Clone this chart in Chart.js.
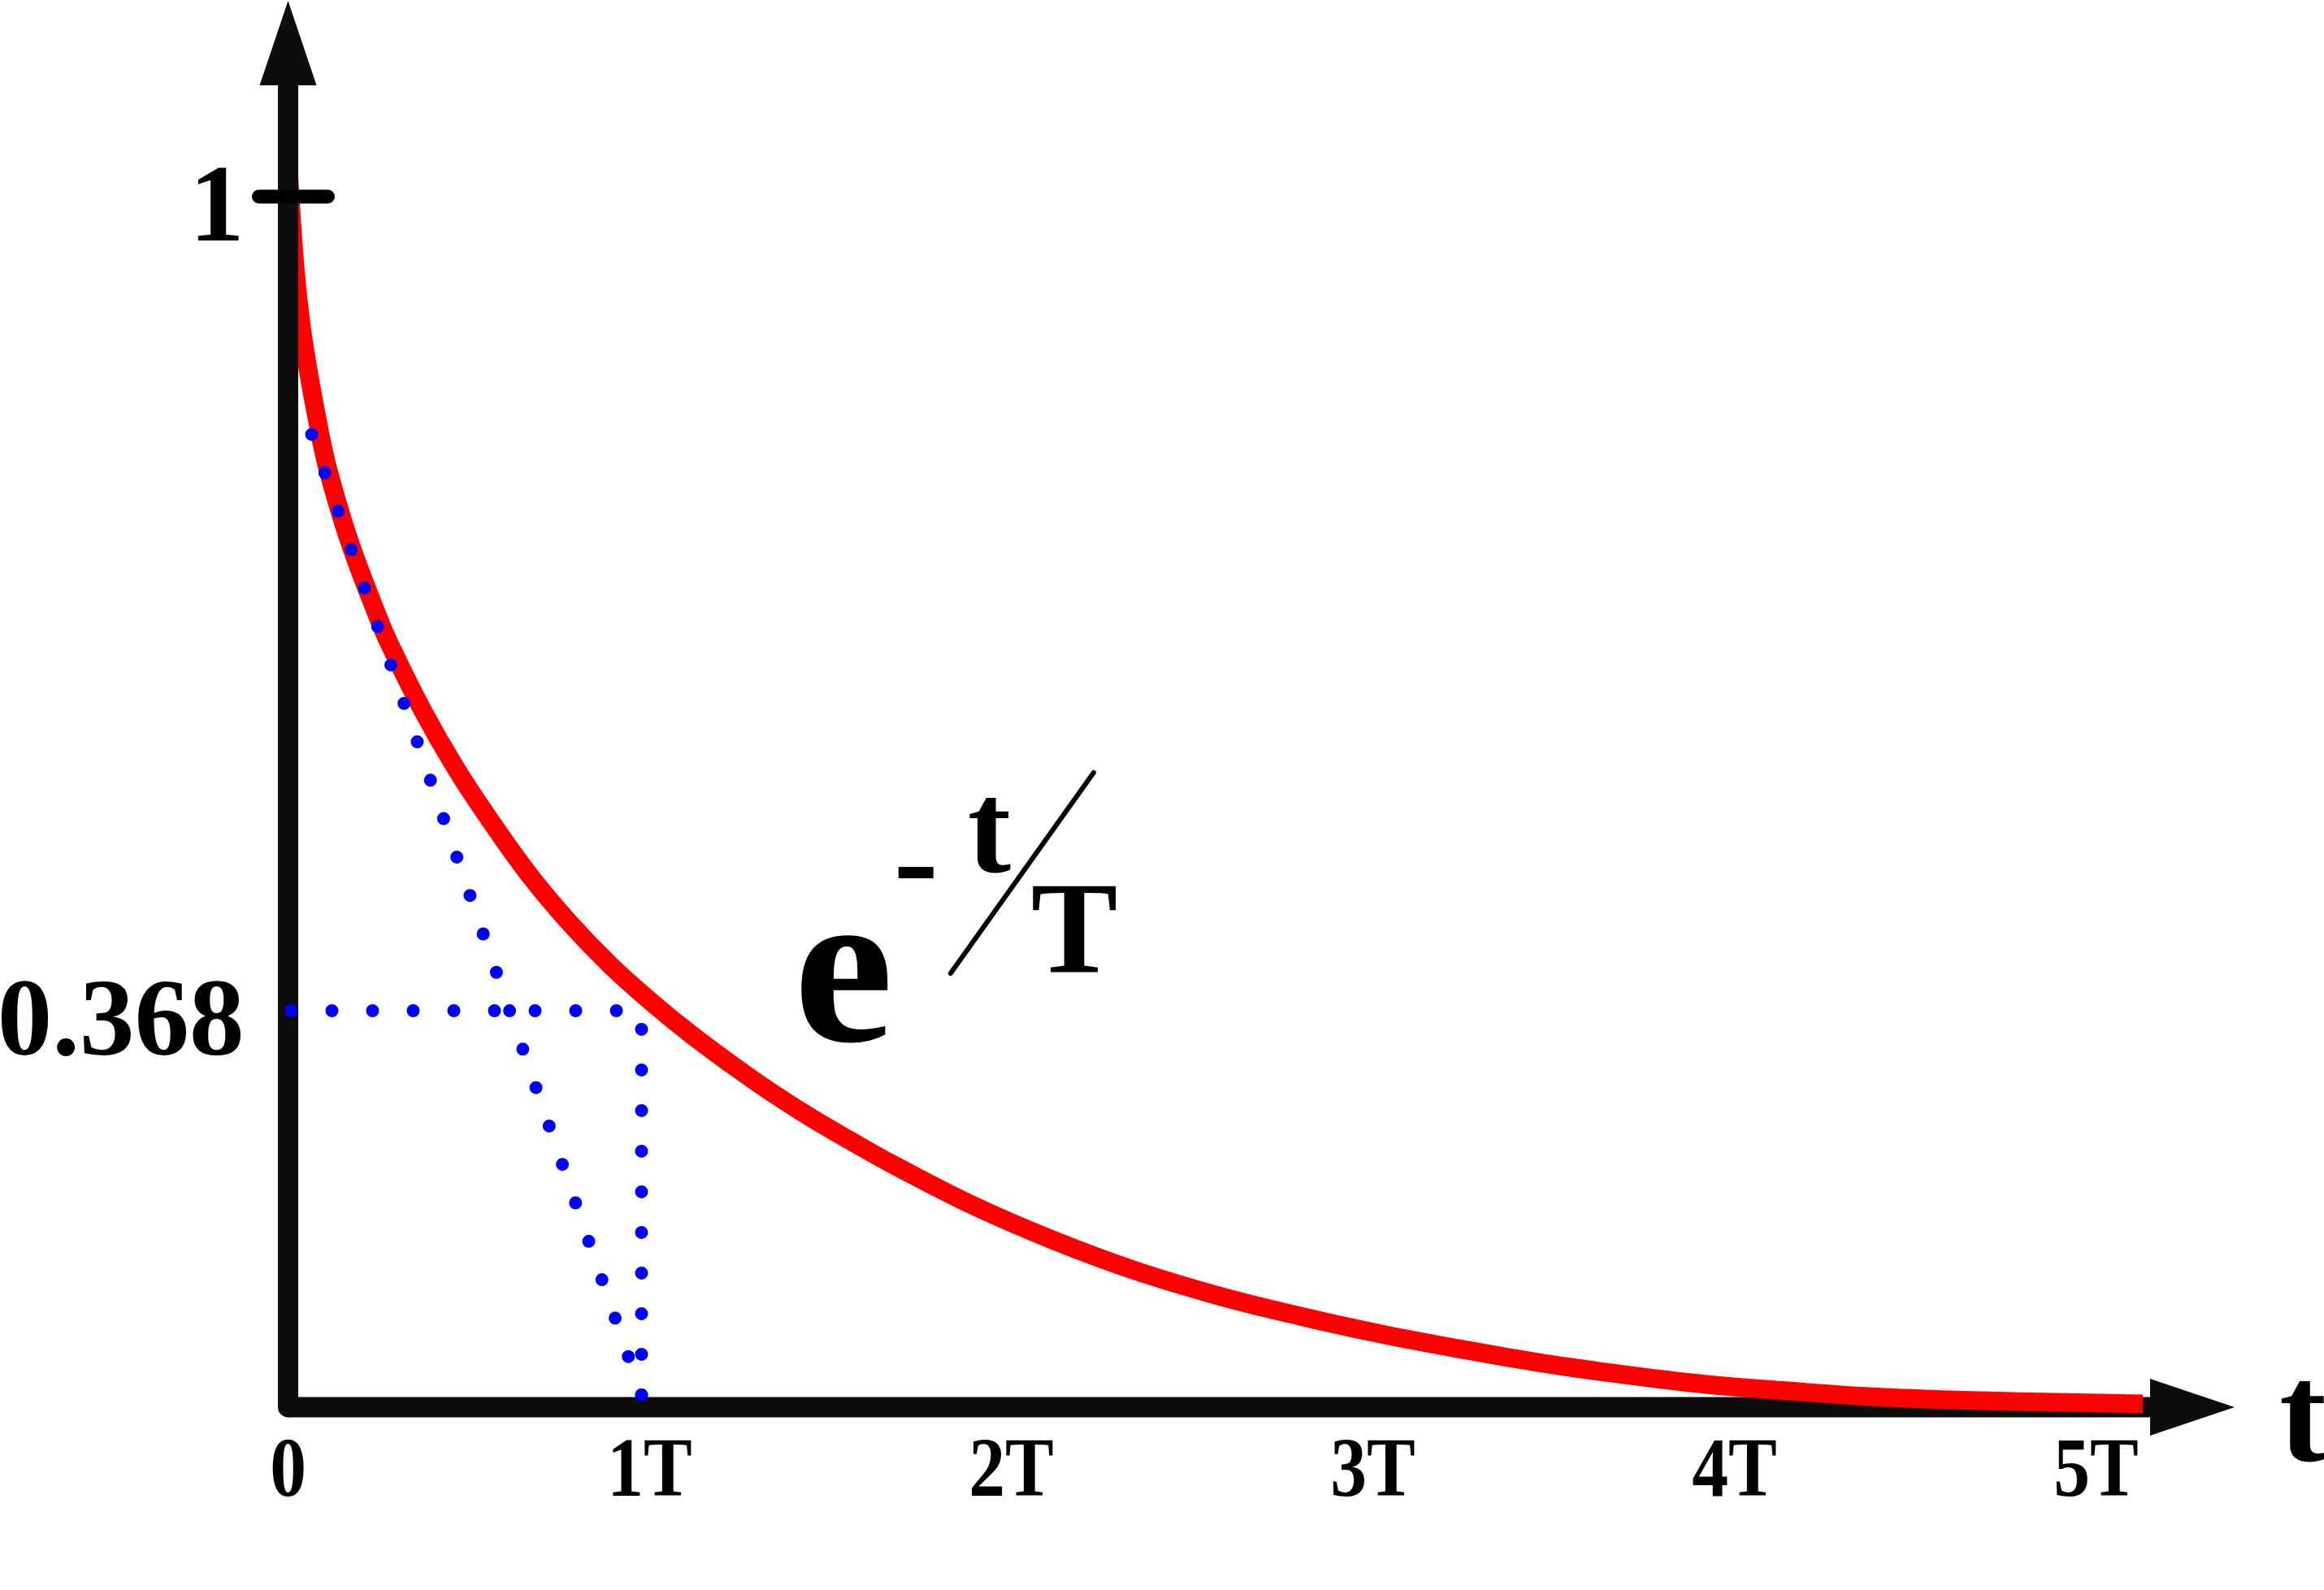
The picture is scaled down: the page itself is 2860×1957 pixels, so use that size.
<!DOCTYPE html>
<html>
<head>
<meta charset="utf-8">
<script src="https://cdn.jsdelivr.net/npm/chart.js@4.4.1/dist/chart.umd.min.js"></script>
<style>
  html, body { margin: 0; padding: 0; background: #ffffff; }
  #wrap { width: 2860px; height: 1957px; }
</style>
</head>
<body>
<div id="wrap"><canvas id="c" width="2860" height="1957"></canvas></div>
<script>
// ---------------- data (t in units of T, value 0..1) ----------------
const curveT = [0, 0.0067, 0.0236, 0.0461, 0.0888, 0.1135, 0.1719, 0.2573, 0.2865, 0.3719, 0.4618, 0.5517, 0.6640, 0.7764, 0.8888, 1.0011, 1.1135, 1.2258, 1.3382, 1.4506, 1.5629, 1.6753, 1.9000, 2.1247, 2.3494, 2.5742, 2.7989, 3.0236, 3.2483, 3.4730, 3.6978, 3.9225, 4.1472, 4.3719, 4.5966, 4.8213, 5.1292];
const curveV = [1.0302, 0.9946, 0.9275, 0.8738, 0.8034, 0.7711, 0.7134, 0.6463, 0.6268, 0.5758, 0.5289, 0.4879, 0.4409, 0.4007, 0.3658, 0.3356, 0.3081, 0.2832, 0.2597, 0.2383, 0.2188, 0.2000, 0.1658, 0.1369, 0.1121, 0.0919, 0.0752, 0.0604, 0.0477, 0.0362, 0.0268, 0.0188, 0.0134, 0.0087, 0.0060, 0.0044, 0.0027];

const tangentT = [0.9775, 0.0640];
const tangentV = [0.0101, 0.8047];
const levelT = [0.0090, 0.9449];
const levelV = [0.3275, 0.3275];
const dropT = [0.9775, 0.9775];
const dropV = [0.0101, 0.3201];

const xAxisT = [0, 5.1494];
const xAxisV = [0, 0];
const yAxisT = [0, 0];
const yAxisV = [0, 1.092];

const xTickValues = [0, 1, 2, 3, 4, 5];
const xTickLabels = ['0', '1T', '2T', '3T', '4T', '5T'];
const yTickValues = [1, 0.3275];
const yTickLabels = ['1', '0.368'];
const yTickMarkValues = [1];
const xAxisTitle = 't';

// ---------------- layout ----------------
const W = 2860, H = 1957;
const ORIGIN_X = 354.5, PX_PER_T = 445;
const ORIGIN_Y = 1732, PX_PER_UNIT = 1490;

const pts = (xs, ys) => xs.map((x, i) => ({ x: x, y: ys[i] }));
const SERIF = '"Liberation Serif", "Times New Roman", serif';
const AXIS_COLOR = '#0d0d0d';

const dotted = (xs, ys) => ({
  data: pts(xs, ys),
  borderColor: '#0000ff',
  borderWidth: 16,
  borderDash: [0, 50],
  borderCapStyle: 'round',
  pointRadius: 0,
  fill: false,
  tension: 0,
  order: 0
});

const decor = {
  id: 'decor',
  afterDatasetsDraw(chart) {
    const ctx = chart.ctx;
    const xs = chart.scales.x, ys = chart.scales.y;
    const ax = xs.getPixelForValue(0);
    const ay = ys.getPixelForValue(0);
    ctx.save();

    // arrowheads
    ctx.fillStyle = AXIS_COLOR;
    const yTop = ys.getPixelForValue(yAxisV[1]);
    ctx.beginPath();
    ctx.moveTo(ax - 35, yTop);
    ctx.lineTo(ax + 35, yTop);
    ctx.lineTo(ax, yTop - 104);
    ctx.closePath();
    ctx.fill();
    const xEnd = xs.getPixelForValue(xAxisT[1]);
    ctx.beginPath();
    ctx.moveTo(xEnd, ay - 35);
    ctx.lineTo(xEnd, ay + 35);
    ctx.lineTo(xEnd + 104, ay);
    ctx.closePath();
    ctx.fill();

    // tick mark(s) on the y axis
    ctx.strokeStyle = '#000000';
    ctx.lineWidth = 17;
    ctx.lineCap = 'round';
    yTickMarkValues.forEach(v => {
      const py = ys.getPixelForValue(v);
      ctx.beginPath();
      ctx.moveTo(ax - 36, py);
      ctx.lineTo(ax + 49, py);
      ctx.stroke();
    });

    ctx.fillStyle = '#000000';
    ctx.textBaseline = 'alphabetic';

    // y tick labels
    ctx.font = 'bold 135px ' + SERIF;
    ctx.textAlign = 'right';
    yTickValues.forEach((v, i) => {
      ctx.fillText(yTickLabels[i], ax - 54, ys.getPixelForValue(v) + 54);
    });

    // x tick labels
    ctx.font = 'bold 104px ' + SERIF;
    ctx.textAlign = 'center';
    xTickValues.forEach((v, i) => {
      ctx.save();
      ctx.translate(xs.getPixelForValue(v), ay + 109);
      ctx.scale(0.86, 1);
      ctx.fillText(xTickLabels[i], 0, 0);
      ctx.restore();
    });

    // axis title
    ctx.font = 'bold 174px ' + SERIF;
    ctx.textAlign = 'left';
    ctx.fillText(xAxisTitle, xEnd + 104 + 55, ay + 66);

    // formula e^{-t/T}
    const fx = xs.getPixelForValue(1.403);
    const fy = ys.getPixelForValue(0.304);
    ctx.font = 'bold 276px ' + SERIF;
    ctx.fillText('e', fx - 2, fy + 2);
    ctx.font = 'bold 165px ' + SERIF;
    ctx.fillText('-', fx + 121, fy - 166);
    ctx.font = 'bold 160px ' + SERIF;
    ctx.fillText('t', fx + 212, fy - 206);
    ctx.fillText('T', fx + 290, fy - 83);
    ctx.strokeStyle = '#000000';
    ctx.lineWidth = 6;
    ctx.lineCap = 'round';
    ctx.beginPath();
    ctx.moveTo(fx + 191, fy - 81);
    ctx.lineTo(fx + 367, fy - 328);
    ctx.stroke();

    ctx.restore();
  }
};

new Chart(document.getElementById('c'), {
  type: 'line',
  data: {
    datasets: [
      dotted(tangentT, tangentV),
      dotted(levelT, levelV),
      dotted(dropT, dropV),
      {
        data: pts(yAxisT, yAxisV),
        borderColor: AXIS_COLOR,
        borderWidth: 25,
        borderCapStyle: 'round',
        pointRadius: 0,
        fill: false,
        order: 1
      },
      {
        data: pts(curveT, curveV),
        borderColor: '#ff0000',
        borderWidth: 23,
        borderCapStyle: 'butt',
        borderJoinStyle: 'round',
        tension: 0.4,
        pointRadius: 0,
        fill: false,
        order: 2
      },
      {
        data: pts(xAxisT, xAxisV),
        borderColor: AXIS_COLOR,
        borderWidth: 25,
        borderCapStyle: 'butt',
        pointRadius: 0,
        fill: false,
        order: 3
      }
    ]
  },
  options: {
    responsive: false,
    devicePixelRatio: 1,
    animation: false,
    layout: { padding: 0 },
    plugins: { legend: { display: false }, tooltip: { enabled: false } },
    scales: {
      x: {
        type: 'linear',
        display: false,
        min: -ORIGIN_X / PX_PER_T,
        max: (W - ORIGIN_X) / PX_PER_T
      },
      y: {
        type: 'linear',
        display: false,
        min: -(H - ORIGIN_Y) / PX_PER_UNIT,
        max: ORIGIN_Y / PX_PER_UNIT
      }
    }
  },
  plugins: [decor]
});
</script>
</body>
</html>
